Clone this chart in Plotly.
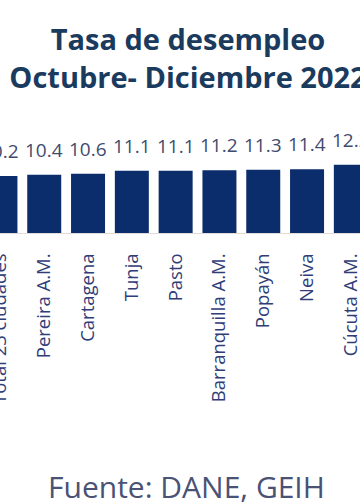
import plotly.graph_objects as go

categories = ["Total 23 ciudades", "Pereira A.M.", "Cartagena", "Tunja", "Pasto",
              "Barranquilla A.M.", "Popayán", "Neiva", "Cúcuta A.M."]
values = [10.2, 10.4, 10.6, 11.1, 11.1, 11.2, 11.3, 11.4, 12.2]
value_labels = [f"{v:.1f}" for v in values]

title_text = "Tasa de desempleo<br>Octubre- Diciembre 2022"
source_text = "Fuente: DANE, GEIH"

W, H = 360, 504
plot_bottom = 233
plot_h = plot_bottom
px_per_unit = 5.6

fig = go.Figure()
fig.add_trace(go.Bar(
    x=categories, y=values,
    marker=dict(color="#0c2d6b", line=dict(width=0)),
    hoverinfo="skip",
))

for c, v, t in zip(categories, values, value_labels):
    fig.add_annotation(x=c, y=v, xref="x", yref="y", text=t, showarrow=False,
                       yanchor="bottom", yshift=10,
                       font=dict(family="Open Sans", size=19, color="#3f4b6e"))

fig.add_annotation(x=186 / W, y=(plot_bottom - 486) / plot_h, xref="paper", yref="paper",
                   text=source_text, showarrow=False, xanchor="center", yanchor="middle",
                   font=dict(family="Open Sans", size=30, color="#4a5275"))

fig.update_layout(
    width=W, height=H,
    margin=dict(l=0, r=0, t=0, b=H - plot_bottom, pad=0, autoexpand=False),
    paper_bgcolor="white", plot_bgcolor="white",
    bargap=0.224,
    showlegend=False,
    title=dict(text=title_text, x=188 / W, xanchor="center", xref="container",
               y=1 - 50 / H, yanchor="top", yref="container", automargin=False,
               font=dict(family="Open Sans", size=29, color="#1a3b5e", weight="bold")),
    xaxis=dict(range=[-0.01, 8.209], showline=True, linecolor="#e3dada", linewidth=1,
               showgrid=False, zeroline=False, tickangle=-90, automargin=False,
               ticks="outside", ticklen=12, tickcolor="rgba(0,0,0,0)",
               tickfont=dict(family="Open Sans", size=18.5, color="#2f3d78")),
    yaxis=dict(range=[0, plot_h / px_per_unit], visible=False, showgrid=False,
               zeroline=False, automargin=False),
)

fig.write_html("out.html", config={"displayModeBar": False},
               post_script="document.body.style.margin='0';")
